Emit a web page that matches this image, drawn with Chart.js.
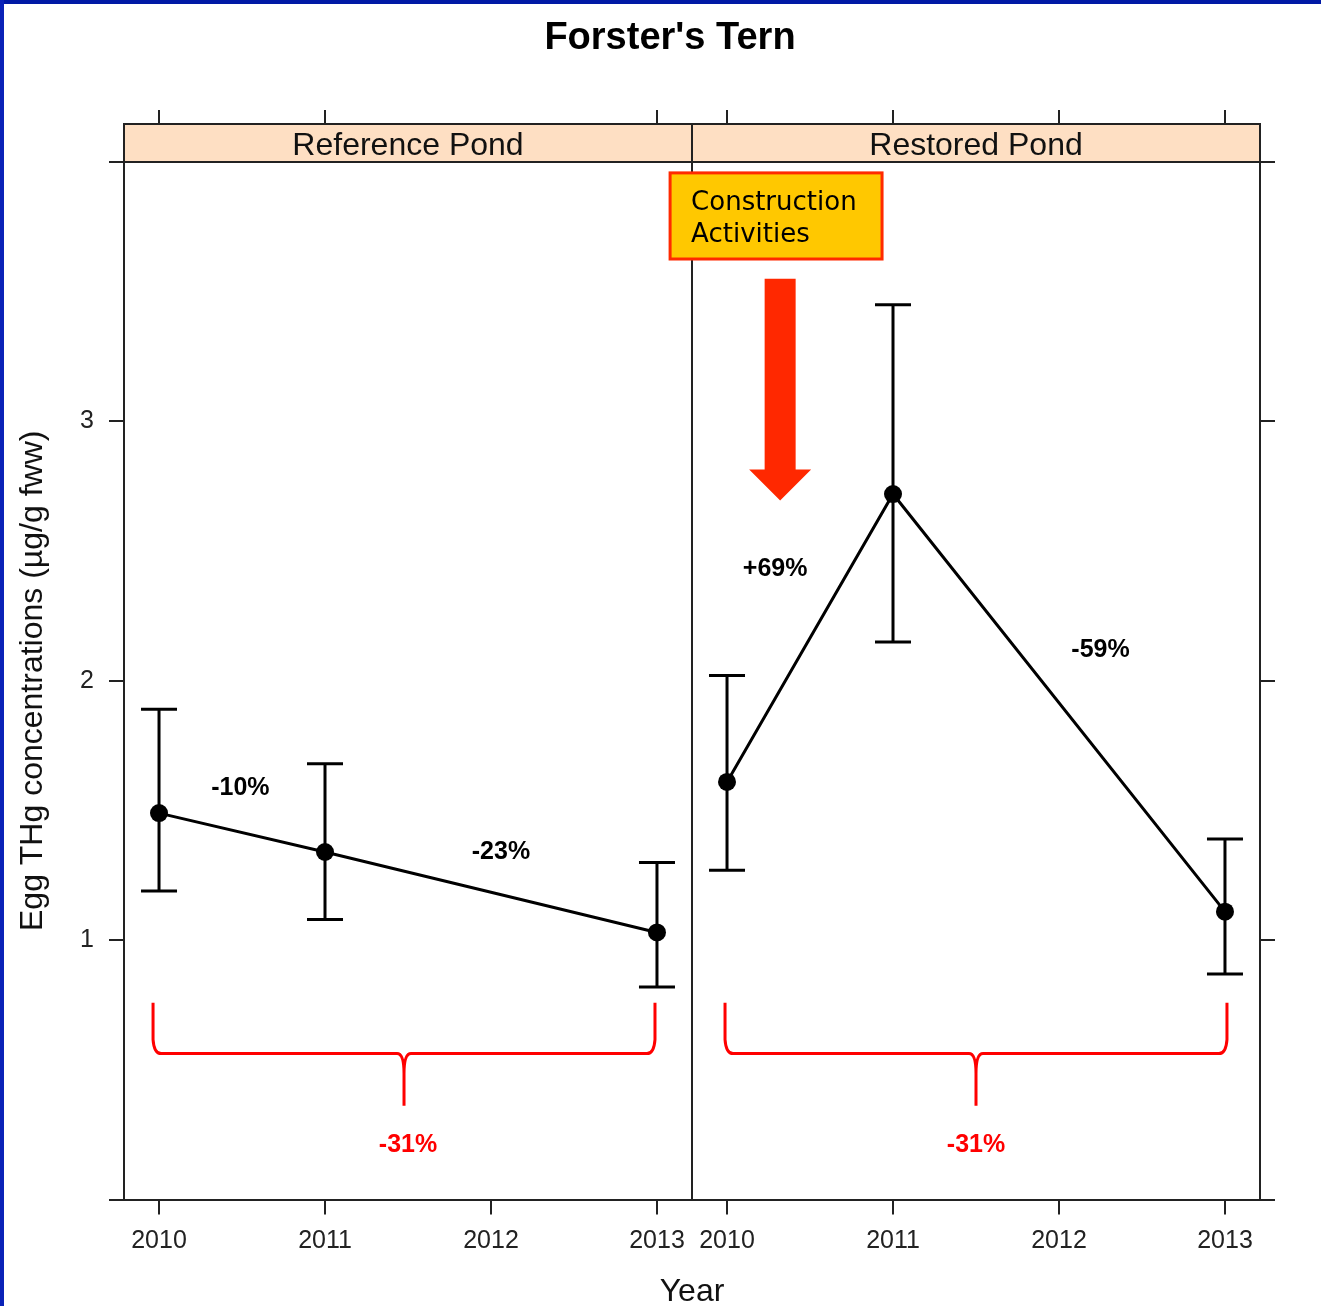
<!DOCTYPE html>
<html>
<head>
<meta charset="utf-8">
<script src="https://cdn.jsdelivr.net/npm/chart.js@4.4.1/dist/chart.umd.min.js"></script>
<style>
  html, body { margin: 0; padding: 0; background: #fff; overflow: hidden; width: 1321px; height: 1306px; }
  #wrap { position: relative; width: 1321px; height: 1306px; overflow: hidden; background: #fff; }
  #c { position: absolute; left: 0; top: 0; }
  .edge-top { position: absolute; left: 0; top: 0; width: 1321px; height: 4px; background: #0019a5; }
  .edge-left { position: absolute; left: 0; top: 0; width: 4px; height: 1306px; background: #0a22b8; }
</style>
</head>
<body>
<div id="wrap">
  <canvas id="c" width="1340" height="1311"></canvas>
  <div class="edge-top"></div>
  <div class="edge-left"></div>
</div>
<script>
// ---- data ----
const years = [2010, 2011, 2012, 2013];
const sampledYears = [2010, 2011, 2013];

const refMean = [1.49, 1.34, 1.03];
const refLow  = [1.19, 1.08, 0.82];
const refHigh = [1.89, 1.68, 1.30];

const resMean = [1.61, 2.72, 1.11];
const resLow  = [1.27, 2.15, 0.87];
const resHigh = [2.02, 3.45, 1.39];

const panelNames = ['Reference Pond', 'Restored Pond'];
const refTopTicks = [2010, 2011, 2013];
const resTopTicks = [2010, 2011, 2012, 2013];
const yTicks = [0, 1, 2, 3, 4];
const yTickLabels = ['', '1', '2', '3', ''];

const stepChangeText = ['-10%', '-23%', '+69%', '-59%'];
const overallChangeText = ['-31%', '-31%'];
const noteLines = ['Construction', 'Activities'];

// ---- annotation placement (axis units) ----
const stepChangeAt = [
  { axis: 'xRef', x: 2010.49, y: 1.585 },
  { axis: 'xRef', x: 2012.06, y: 1.338 },
  { axis: 'xRes', x: 2010.29, y: 2.43 },
  { axis: 'xRes', x: 2012.25, y: 2.12 }
];
const braceAt = [
  { axis: 'xRef', x0: 2009.964, x1: 2012.988, xc: 2011.476, yTop: 0.759, yMid: 0.563, yTip: 0.362, yText: 0.21 },
  { axis: 'xRes', x0: 2009.988, x1: 2013.012, xc: 2011.50, yTop: 0.759, yMid: 0.563, yTip: 0.362, yText: 0.21 }
];
const noteBox = { axis: 'xRes', x0: 2009.657, x1: 2010.934, y0: 3.958, y1: 3.626 };
const noteArrow = { axis: 'xRes', x: 2010.32, yTop: 3.55, yHead: 2.815, yTip: 2.695 };

const xMin = 2009.789, xMax = 2013.211;
const INK = '#222';
const FONT = 'Liberation Sans';

Chart.defaults.font.family = FONT;

const panelDecor = {
  id: 'panelDecor',
  beforeDatasetsDraw(chart) {
    const ctx = chart.ctx;
    ctx.save();
    ctx.strokeStyle = '#000';
    ctx.lineWidth = 3;
    chart.data.datasets.forEach(ds => {
      const xs = chart.scales[ds.xAxisID];
      const ys = chart.scales[ds.yAxisID];
      ds.data.forEach((pt, i) => {
        const x = xs.getPixelForValue(pt.x);
        const lo = ys.getPixelForValue(ds.errLow[i]);
        const hi = ys.getPixelForValue(ds.errHigh[i]);
        ctx.beginPath();
        ctx.moveTo(x, lo); ctx.lineTo(x, hi);
        ctx.moveTo(x - 18, lo); ctx.lineTo(x + 18, lo);
        ctx.moveTo(x - 18, hi); ctx.lineTo(x + 18, hi);
        ctx.stroke();
      });
    });
    ctx.restore();
  },
  afterDraw(chart) {
    const ctx = chart.ctx;
    const area = chart.chartArea;
    const ys = chart.scales.y;
    const stripH = 38;
    const stripTop = area.top - stripH;
    ctx.save();

    // panel strips
    ['xRef', 'xRes'].forEach((id, k) => {
      const s = chart.scales[id];
      ctx.fillStyle = '#fedfc3';
      ctx.fillRect(s.left, stripTop, s.right - s.left, stripH);
      ctx.strokeStyle = INK;
      ctx.lineWidth = 2;
      ctx.strokeRect(s.left, stripTop, s.right - s.left, stripH);
      ctx.fillStyle = '#111';
      ctx.font = '32px "' + FONT + '"';
      ctx.textAlign = 'center';
      ctx.textBaseline = 'middle';
      ctx.fillText(panelNames[k], (s.left + s.right) / 2, stripTop + stripH / 2 + 3);
    });

    // divider between panels
    const midX = Math.round(chart.scales.xRef.right);
    ctx.strokeStyle = INK;
    ctx.lineWidth = 2;
    ctx.beginPath();
    ctx.moveTo(midX, stripTop);
    ctx.lineTo(midX, area.bottom);
    ctx.stroke();

    // step change labels
    ctx.fillStyle = '#000';
    ctx.font = 'bold 25px "' + FONT + '"';
    ctx.textAlign = 'center';
    ctx.textBaseline = 'middle';
    stepChangeAt.forEach((p, i) => {
      const xs = chart.scales[p.axis];
      ctx.fillText(stepChangeText[i], xs.getPixelForValue(p.x), ys.getPixelForValue(p.y));
    });

    // braces with overall change
    braceAt.forEach((b, i) => {
      const xs = chart.scales[b.axis];
      const X0 = xs.getPixelForValue(b.x0), X1 = xs.getPixelForValue(b.x1), XC = xs.getPixelForValue(b.xc);
      const YT = ys.getPixelForValue(b.yTop), YM = ys.getPixelForValue(b.yMid), YP = ys.getPixelForValue(b.yTip);
      ctx.strokeStyle = '#ff0000';
      ctx.lineWidth = 3;
      ctx.beginPath();
      ctx.moveTo(X0, YT);
      ctx.lineTo(X0, YM - 14);
      ctx.quadraticCurveTo(X0 + 1, YM, X0 + 8, YM);
      ctx.lineTo(XC - 7, YM);
      ctx.quadraticCurveTo(XC, YM, XC, YM + 20);
      ctx.lineTo(XC, YP);
      ctx.moveTo(XC, YM + 20);
      ctx.quadraticCurveTo(XC, YM, XC + 7, YM);
      ctx.lineTo(X1 - 8, YM);
      ctx.quadraticCurveTo(X1 - 1, YM, X1, YM - 14);
      ctx.lineTo(X1, YT);
      ctx.stroke();
      ctx.fillStyle = '#ff0000';
      ctx.font = 'bold 25px "' + FONT + '"';
      ctx.fillText(overallChangeText[i], xs.getPixelForValue(2011.5), ys.getPixelForValue(b.yText));
    });

    // construction note
    const nx = chart.scales[noteBox.axis];
    const bx0 = nx.getPixelForValue(noteBox.x0), bx1 = nx.getPixelForValue(noteBox.x1);
    const by0 = ys.getPixelForValue(noteBox.y0), by1 = ys.getPixelForValue(noteBox.y1);
    ctx.fillStyle = '#ffc800';
    ctx.fillRect(bx0, by0, bx1 - bx0, by1 - by0);
    ctx.strokeStyle = '#ff2a00';
    ctx.lineWidth = 3;
    ctx.strokeRect(bx0, by0, bx1 - bx0, by1 - by0);
    ctx.fillStyle = '#000';
    ctx.font = '26px "DejaVu Sans"';
    ctx.textAlign = 'left';
    ctx.textBaseline = 'alphabetic';
    ctx.fillText(noteLines[0], bx0 + 21, by0 + 37);
    ctx.fillText(noteLines[1], bx0 + 21, by0 + 69);

    // arrow
    const ax = chart.scales[noteArrow.axis].getPixelForValue(noteArrow.x);
    const aTop = ys.getPixelForValue(noteArrow.yTop);
    const aHead = ys.getPixelForValue(noteArrow.yHead);
    const aTip = ys.getPixelForValue(noteArrow.yTip);
    ctx.fillStyle = '#ff2800';
    ctx.beginPath();
    ctx.moveTo(ax - 15.5, aTop);
    ctx.lineTo(ax + 15.5, aTop);
    ctx.lineTo(ax + 15.5, aHead);
    ctx.lineTo(ax + 31, aHead);
    ctx.lineTo(ax, aTip);
    ctx.lineTo(ax - 31, aHead);
    ctx.lineTo(ax - 15.5, aHead);
    ctx.closePath();
    ctx.fill();

    ctx.restore();
  }
};

const tickFont = { family: FONT, size: 25 };
const gridBase = { drawOnChartArea: false, color: INK, lineWidth: 2 };
const borderBase = { color: INK, width: 2 };

function yearAxis(position, stack, ticksList, showLabels) {
  return {
    type: 'linear', position, stack, min: xMin, max: xMax,
    afterBuildTicks: s => { s.ticks = ticksList.map(v => ({ value: v })); },
    ticks: showLabels
      ? { display: true, autoSkip: false, callback: v => String(v), color: INK, font: tickFont, padding: 12, maxRotation: 0 }
      : { display: false },
    grid: Object.assign({}, gridBase, { tickLength: showLabels ? 15 : 52 }),
    border: borderBase
  };
}

function pointSeries(axisId, means, lows, highs) {
  return {
    type: 'line',
    xAxisID: axisId,
    yAxisID: 'y',
    data: sampledYears.map((x, i) => ({ x, y: means[i] })),
    borderColor: '#000',
    borderWidth: 3,
    pointRadius: 9,
    pointBackgroundColor: '#000',
    pointBorderWidth: 0,
    fill: false,
    tension: 0,
    errLow: lows,
    errHigh: highs
  };
}

new Chart(document.getElementById('c'), {
  type: 'line',
  data: {
    datasets: [
      pointSeries('xRef', refMean, refLow, refHigh),
      pointSeries('xRes', resMean, resLow, resHigh)
    ]
  },
  options: {
    responsive: false,
    animation: false,
    devicePixelRatio: 1,
    layout: { padding: 0 },
    plugins: {
      legend: { display: false },
      tooltip: { enabled: false },
      title: {
        display: true, text: "Forster's Tern", color: '#000',
        font: { family: FONT, size: 38, weight: 'bold' },
        padding: { top: 15.5, bottom: 48.9 }
      },
      subtitle: {
        display: true, position: 'bottom', fullSize: false, text: 'Year', color: '#111',
        font: { family: FONT, size: 32 },
        padding: { top: 4, bottom: 0 }
      }
    },
    scales: {
      xRef: yearAxis('bottom', 'bottom', years, true),
      xRes: yearAxis('bottom', 'bottom', years, true),
      topRes: yearAxis('top', 'top', resTopTicks, false),
      topRef: yearAxis('top', 'top', refTopTicks, false),
      y: {
        type: 'linear', position: 'left', min: 0, max: 4,
        afterBuildTicks: s => { s.ticks = yTicks.map(v => ({ value: v })); },
        afterFit: s => { s.width = 124; },
        ticks: { callback: (v, i) => yTickLabels[i], color: INK, font: tickFont, padding: 15 },
        grid: Object.assign({}, gridBase, { tickLength: 15 }),
        border: borderBase,
        title: {
          display: true, text: 'Egg THg concentrations (µg/g fww)', color: '#111',
          font: { family: FONT, size: 32 }, padding: { top: 14, bottom: 0 }
        }
      },
      yR: {
        type: 'linear', position: 'right', min: 0, max: 4,
        afterBuildTicks: s => { s.ticks = yTicks.map(v => ({ value: v })); },
        afterFit: s => { s.width = 80; },
        ticks: { callback: () => '', padding: 0 },
        grid: Object.assign({}, gridBase, { tickLength: 15 }),
        border: borderBase
      }
    }
  },
  plugins: [panelDecor]
});
</script>
</body>
</html>
